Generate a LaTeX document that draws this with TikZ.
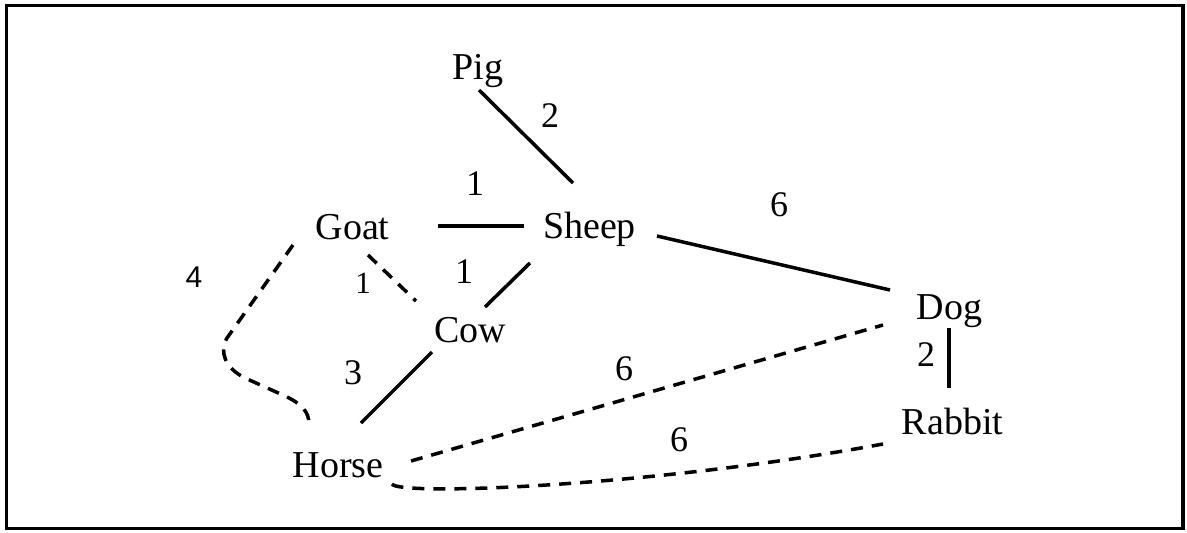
\documentclass[tikz,border=0pt]{standalone}
\usepackage{fontspec}
\setmainfont{Liberation Serif}
\newfontfamily\labsans{Liberation Sans}
\begin{document}
\begin{tikzpicture}[x=1pt,y=-1pt,
  animal/.style={font=\fontsize{38}{40}\selectfont, anchor=base, inner sep=0pt},
  weight/.style={font=\fontsize{36}{38}\selectfont, inner sep=0pt},
  smallweight/.style={font=\fontsize{31}{33}\selectfont, inner sep=0pt},
  sanweight/.style={font=\labsans\fontsize{30}{32}\selectfont, inner sep=0pt},
  edge/.style={line width=3.5pt},
  dashededge/.style={line width=3.5pt, dash pattern=on 12pt off 9pt}]
\useasboundingbox (0,0) rectangle (1187,533);
\draw[line width=3.5pt] (6.5,5.5) rectangle (1183,528.5);

% animals
\node[animal] (pig)    at (478,79)    {Pig};
\node[animal] (goat)   at (352.5,239) {Goat};
\node[animal] (sheep)  at (589.5,238) {Sheep};
\node[animal] (cow)    at (470,342)   {Cow};
\node[animal] (horse)  at (338,477)   {Horse};
\node[animal] (dog)    at (949.5,319) {Dog};
\node[animal] (rabbit) at (952.5,434) {Rabbit};

% edge weights
\node[weight] (w1) at (550,116) {2};
\node[weight] (w2) at (475,184) {1};
\node[weight] (w3) at (779,205) {6};
\node[smallweight] (w4) at (363,283) {1};
\node[weight] (w5) at (464,272) {1};
\node[weight] (w6) at (353,373) {3};
\node[weight] (w7) at (624,369) {6};
\node[weight] (w8) at (926,355) {2};
\node[weight] (w9) at (679,440) {6};
\node[sanweight] (w10) at (194,277) {4};

% solid connectors
\draw[edge] ([shift={(1,11)}]pig.base) -- ([shift={(-16.5,-55)}]sheep.base);
\draw[edge] ([shift={(85.5,-13)}]goat.base) -- ([shift={(-65.5,-12)}]sheep.base);
\draw[edge] ([shift={(-59.5,25)}]sheep.base) -- ([shift={(15,-35)}]cow.base);
\draw[edge] ([shift={(67.5,-2)}]sheep.base) -- ([shift={(-59.5,-29)}]dog.base);
\draw[edge] ([shift={(-38,10)}]cow.base) -- ([shift={(23,-54)}]horse.base);
\draw[edge] ([shift={(-0.5,9)}]dog.base) -- ([shift={(-3.5,-46)}]rabbit.base);

% dashed connectors
\draw[dashededge] ([shift={(15.5,16)}]goat.base) -- ([shift={(-54,-41)}]cow.base);
\draw[dashededge] ([shift={(73,-16)}]horse.base) -- ([shift={(-66.5,6)}]dog.base);
\draw[dashededge] ([shift={(54,7)}]horse.base) .. controls (398,496) and (650,487) .. ([shift={(-69.5,10)}]rabbit.base);
\draw[dashededge] ([shift={(-59.5,6)}]goat.base) -- (227,338)
  .. controls (219,352) and (225,368) .. (245,378) -- (285,396)
  .. controls (302,404) and (309,412) .. ([shift={(-29,-53)}]horse.base);
\end{tikzpicture}
\end{document}
